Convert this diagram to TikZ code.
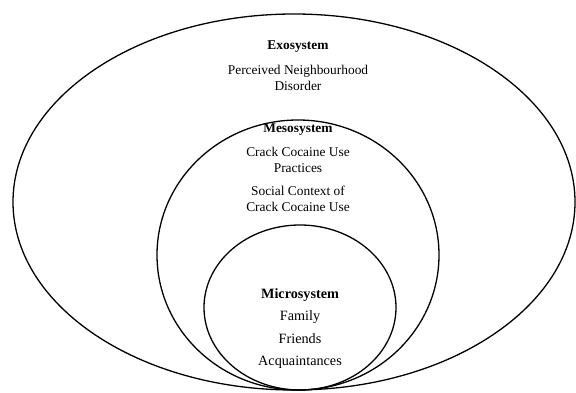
\documentclass[tikz,border=0pt]{standalone}
\usepackage{fontspec}
\setmainfont{Liberation Serif}
\begin{document}
\begin{tikzpicture}[x=1pt,y=-1pt,
  ring/.style={draw=black,line width=1.3pt},
  lbl/.style={align=center,font=\fontsize{13.4}{16}\selectfont,inner sep=0pt},
  ttl/.style={lbl,font=\fontsize{13.4}{16}\selectfont\bfseries},
  mlbl/.style={lbl,font=\fontsize{14.2}{16}\selectfont},
  mttl/.style={lbl,font=\fontsize{14.2}{16}\selectfont\bfseries}]
\useasboundingbox (0,0) rectangle (576,393);
\draw[ring] (294,202) ellipse [x radius=281,y radius=188];
\draw[ring] (298,255) ellipse [x radius=141,y radius=135];
\draw[ring] (300,307.5) ellipse [x radius=96,y radius=82.5];
\node[ttl] (exo) at (298,47) {Exosystem};
\node[lbl] (exot) at (298,78) {Perceived Neighbourhood\\Disorder};
\node[ttl] (meso) at (298,130) {Mesosystem};
\node[lbl] (meso1) at (298,160) {Crack Cocaine Use\\Practices};
\node[lbl] (meso2) at (298,199) {Social Context of\\Crack Cocaine Use};
\node[mttl] (micro) at (300,295) {Microsystem};
\node[mlbl] (fam) at (300,317) {Family};
\node[mlbl] (fri) at (300,339) {Friends};
\node[mlbl] (acq) at (300,362) {Acquaintances};
\end{tikzpicture}
\end{document}
